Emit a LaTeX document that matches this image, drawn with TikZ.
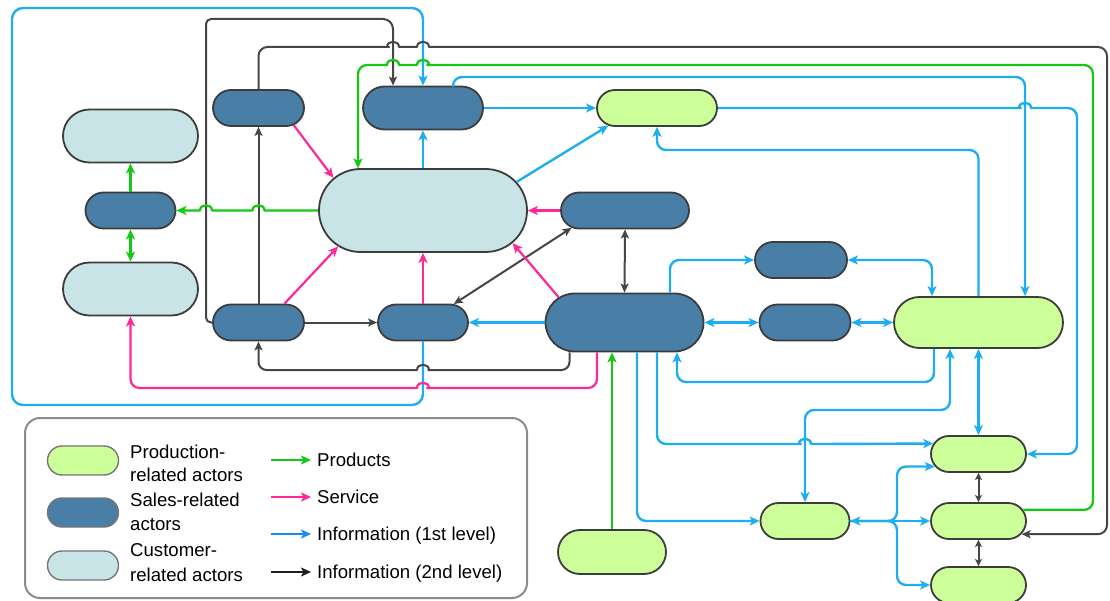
\documentclass[tikz,border=0pt]{standalone}
\usepackage{fontspec}
\setmainfont{Liberation Sans}
\usetikzlibrary{shapes.misc,arrows.meta}
\definecolor{prodfill}{RGB}{204,255,153}
\definecolor{salesfill}{RGB}{73,126,166}
\definecolor{custfill}{RGB}{201,228,230}
\definecolor{nodeborder}{RGB}{60,60,60}
\definecolor{infoblue}{RGB}{30,174,240}
\definecolor{prodgreen}{RGB}{20,200,20}
\definecolor{svcpink}{RGB}{255,40,150}
\definecolor{infogray}{RGB}{70,70,70}
\definecolor{legframe}{RGB}{140,140,140}
\definecolor{legdark}{RGB}{30,30,30}
\newcommand\legfont{\fontsize{18.6}{23}\selectfont}
\tikzset{
  actor/.style={rounded rectangle, draw=nodeborder, line width=1.8pt, inner sep=0pt},
  prodA/.style={actor, fill=prodfill},
  salesA/.style={actor, fill=salesfill},
  custA/.style={actor, fill=custfill},
  legoval/.style={rounded rectangle, draw=nodeborder!70, line width=1.4pt, inner sep=0pt, minimum width=71pt, minimum height=29pt},
  legtext/.style={inner sep=0pt, font=\legfont, anchor=base west},
  conn/.style={line join=round, ->},
  inf/.style={conn, draw=infoblue, line width=2.4pt},
  inftwo/.style={conn, draw=infogray, line width=2pt, >={Stealth[length=9pt,width=8pt,inset=2pt]}},
  svc/.style={conn, draw=svcpink, line width=2.2pt},
  prod/.style={conn, draw=prodgreen, line width=2.3pt},
}
\begin{document}
\begin{tikzpicture}[x=1pt, y=-1pt, >={Stealth[length=10pt,width=9pt,inset=2.5pt]}]
\useasboundingbox (0,0) rectangle (1110,601);

% ---------- actors ----------
\node[custA, minimum width=135, minimum height=53] (C1) at (130.5,136) {};
\node[salesA, minimum width=90, minimum height=36] (S1) at (130.5,210.5) {};
\node[custA, minimum width=135, minimum height=53] (C2) at (130.5,289) {};
\node[salesA, minimum width=91, minimum height=36] (S2) at (258.5,108) {};
\node[salesA, minimum width=120, minimum height=43] (S3) at (423,108) {};
\node[prodA, minimum width=120, minimum height=36] (P1) at (657,108) {};
\node[custA, minimum width=208, minimum height=83] (Cbig) at (423,210.5) {};
\node[salesA, minimum width=128, minimum height=36] (S4) at (625,210.5) {};
\node[salesA, minimum width=91, minimum height=36] (S5) at (258.5,322.5) {};
\node[salesA, minimum width=90, minimum height=36] (S6) at (423,322.5) {};
\node[salesA, minimum width=158, minimum height=58] (Sbig) at (624.5,322.5) {};
\node[salesA, minimum width=92, minimum height=36] (S7) at (801,260) {};
\node[salesA, minimum width=91, minimum height=36] (S8) at (805,322.5) {};
\node[prodA, minimum width=169, minimum height=51] (Pbig) at (978.5,322.5) {};
\node[prodA, minimum width=95, minimum height=36] (P2) at (978.5,454) {};
\node[prodA, minimum width=89, minimum height=36] (P3) at (805,521) {};
\node[prodA, minimum width=95, minimum height=36] (P4) at (978.5,521) {};
\node[prodA, minimum width=95, minimum height=36] (P5) at (978.5,585) {};
\node[prodA, minimum width=108, minimum height=44] (P6) at (612,552) {};

\coordinate (g1) at (358,65);

% ---------- information, 1st level (blue) ----------
\draw[inf, rounded corners=11pt] (S6.south) -- (423,405) -- (12,405) -- (12,8) -- (423,8) -- (S3.north);
\draw[inf] (Cbig.north) -- (S3.south);
\draw[inf] (S3.east) -- (P1.west);
\draw[inf] (Cbig.17) -- (P1.200);
\draw[inf, rounded corners=9pt] ([xshift=30pt]S3.north) |- (1025,77) -- ([xshift=46.5pt]Pbig.north);
\draw[inf, rounded corners=9pt] (P1.east) -- (1012,108) [sharp corners] -- (1019,108)
   .. controls (1019,101) and (1031,101) .. (1031,108) -- (1038,108) [rounded corners=9pt]
   -- (1077,108) -- (1077,454) -- (P2.east);
\draw[inf, rounded corners=9pt] (Pbig.north) -- (978.5,150) -- (657,150) -- (P1.south);
\draw[inf] (Sbig.west) -- (S6.east);
\draw[inf, rounded corners=9pt] ([xshift=45.5pt]Sbig.north) |- (S7.west);
\draw[inf, <->] (Sbig.east) -- (S8.west);
\draw[inf, <->] (S8.east) -- (Pbig.west);
\draw[inf, <->, rounded corners=9pt] (S7.east) -| ([xshift=-46.5pt]Pbig.north);
\draw[inf, rounded corners=9pt] ([xshift=-44.5pt]Pbig.south) |- (677,382) -- ([xshift=52.5pt]Sbig.south);
\draw[inf, <->] (Pbig.south) -- (P2.north);
\draw[inf, <->, rounded corners=9pt] (P3.north) |- (950,410) -- ([xshift=-28.5pt]Pbig.south);
\draw[inf, rounded corners=9pt] ([xshift=12.5pt]Sbig.south) |- (P3.west);
\draw[inf, rounded corners=9pt] ([xshift=32.5pt]Sbig.south) -- (657,444) -- (792,444) [sharp corners] -- (799,444)
   .. controls (799,437) and (811,437) .. (811,444) -- (818,444) -- (P2.167);
\draw[inf, <->] (P3.east) -- (P4.west);
\draw[inf, rounded corners=9pt] (P3.east) -- (897,521) |- (P2.196);
\draw[inf, rounded corners=9pt] (P3.east) -- (897,521) |- (P5.west);

% ---------- information, 2nd level (grey) ----------
\draw[inftwo, rounded corners=5pt] (S5.west) -| (206,19) [rounded corners=10pt] -| ([xshift=-30pt]S3.north);
\draw[inftwo] (S5.north) -- (S2.south);
\draw[inftwo, rounded corners=9pt] (S2.north) -- (258.5,47) -- (380,47) [sharp corners] -- (387,47)
   .. controls (387,40) and (399,40) .. (399,47) -- (417,47)
   .. controls (417,40) and (429,40) .. (429,47) -- (436,47) [rounded corners=9pt]
   -- (1107,47) |- (P4.-17);
\draw[inftwo] (S5.east) -- (S6.west);
\draw[inftwo, rounded corners=8pt] ([xshift=-55pt]Sbig.south) -- (569.5,370) -- (436,370) [sharp corners] -- (429,370)
   .. controls (429,363) and (417,363) .. (417,370) -- (410,370) [rounded corners=8pt]
   -- (258.5,370) -- (S5.south);
\draw[inftwo, <->] (S6.31) -- (S4.198);
\draw[inftwo, <->] (S4.south) -- (Sbig.north);
\draw[inftwo, <->, >={Stealth[length=7pt,width=7pt,inset=1.5pt]}] (P2.south) -- (P4.north);
\draw[inftwo, <->, >={Stealth[length=7pt,width=7pt,inset=1.5pt]}] (P4.south) -- (P5.north);

% ---------- service (pink) ----------
\draw[svc] (S2.-26) -- (Cbig.160);
\draw[svc] (S5.36) -- (Cbig.203);
\draw[svc] (S6.north) -- (Cbig.south);
\draw[svc] (Sbig.159) -- (Cbig.-20);
\draw[svc] (S4.west) -- (Cbig.east);
\draw[svc, rounded corners=9pt] ([xshift=-27.5pt]Sbig.south) -- (597,388) -- (436,388) [sharp corners] -- (429,388)
   .. controls (429,381) and (417,381) .. (417,388) -- (410,388) [rounded corners=9pt]
   -- (130.5,388) -- (C2.south);

% ---------- products (green) ----------
\draw[prod] (Cbig.west) -- (264.5,210.5) .. controls (264.5,203.5) and (252.5,203.5) .. (252.5,210.5)
   -- (212,210.5) .. controls (212,203.5) and (200,203.5) .. (200,210.5) -- (S1.east);
\draw[prod] (S1.north) -- (C1.south);
\draw[prod, <->] (S1.south) -- (C2.north);
\draw[prod] (P6.north) -- (P6.north |- Sbig.south);
\draw[prod, rounded corners=9pt] (P4.14) -| (1093,65) -- (436,65) [sharp corners] -- (429,65)
   .. controls (429,58) and (417,58) .. (417,65) -- (399,65)
   .. controls (399,58) and (387,58) .. (387,65) -- (380,65) [rounded corners=9pt]
   -- (g1) -- (g1 |- Cbig.148);

% ---------- legend ----------
\node[draw=legframe, line width=2pt, rounded corners=15pt, minimum width=502, minimum height=180, inner sep=0pt] (legend) at (276,508) {};
\node[legoval, fill=prodfill] (lo1) at (83,460.5) {};
\node[legoval, fill=salesfill] (lo2) at (83,512.5) {};
\node[legoval, fill=custfill] (lo3) at (83,565.5) {};
\node[legtext] (lt1a) at (130,458) {Production-};
\node[legtext] (lt1b) at (130,481) {related actors};
\node[legtext] (lt2a) at (130,506) {Sales-related};
\node[legtext] (lt2b) at (130,530) {actors};
\node[legtext] (lt3a) at (130,556) {Customer-};
\node[legtext] (lt3b) at (130,581) {related actors};
\coordinate (la1) at (271,460); \coordinate (lb1) at (311,460);
\coordinate (la2) at (271,497); \coordinate (lb2) at (311,497);
\coordinate (la3) at (271,534); \coordinate (lb3) at (311,534);
\coordinate (la4) at (271,572); \coordinate (lb4) at (311,572);
\draw[prod] (la1) -- (lb1);
\draw[svc] (la2) -- (lb2);
\draw[inf, draw=infoblue!80!blue] (la3) -- (lb3);
\draw[conn, draw=legdark, line width=2.3pt] (la4) -- (lb4);
\node[legtext] (ll1) at (317,466.5) {Products};
\node[legtext] (ll2) at (317,503.5) {Service};
\node[legtext] (ll3) at (317,540.5) {Information (1st level)};
\node[legtext] (ll4) at (317,578.5) {Information (2nd level)};
\end{tikzpicture}
\end{document}
